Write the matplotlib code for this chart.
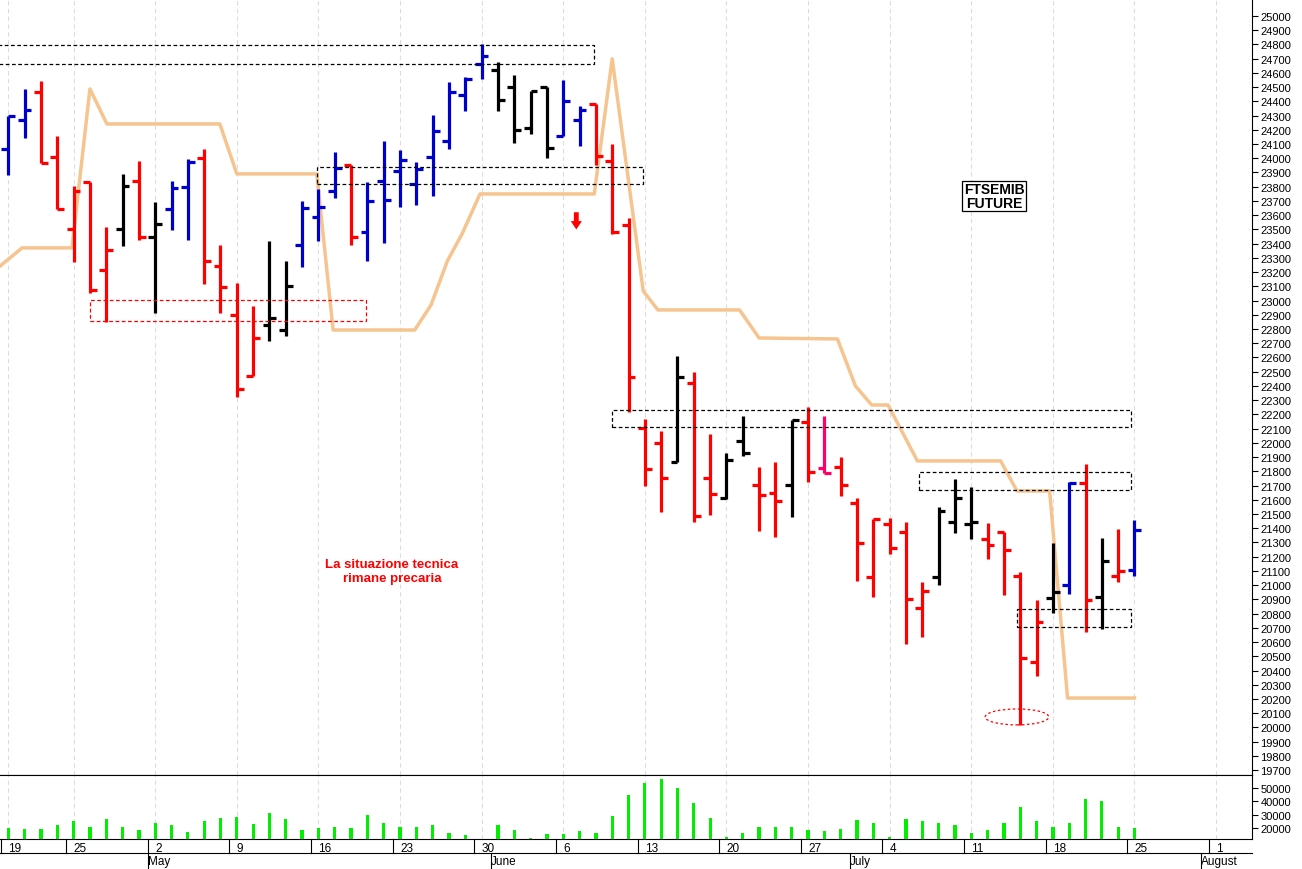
import matplotlib
matplotlib.use("Agg")
import matplotlib.pyplot as plt
from matplotlib.patches import Rectangle, Ellipse
import numpy as np
plt.rcParams['font.family'] = ['Liberation Sans', 'DejaVu Sans']

opens = [24065,24269,24464,24007,23503,23830,23215,23503,23843,23445,
         23644,23801,24002,23241,22899,22468,22829,22793,23390,23585,
         23768,23955,23484,23839,23913,23819,24007,24124,24445,24663,
         24621,24499,24210,24499,24154,24269,24382,23979,23531,22102,
         21997,21868,22419,21753,21613,22011,21704,21648,21704,22149,
         21824,21833,21578,21055,21430,21376,20838,21055,21442,21430,
         21325,21372,21067,20463,20910,21001,21720,20918,21067,21109]
highs = [24300,24487,24541,24159,23808,23836,23515,23890,23983,23691,
         23843,23995,24065,23393,23121,22964,23417,23276,23702,23784,
         24042,23955,23831,24124,24061,23976,24307,24538,24569,24803,
         24679,24585,24475,24499,24552,24370,24382,24100,23580,22168,
         22081,22608,22496,22063,21929,22191,21833,21863,22161,22250,
         22191,21899,21613,21465,21470,21442,21020,21547,21746,21688,
         21437,21372,21090,20896,21294,21728,21852,21329,21395,21458]
lows = [23883,24140,23967,23644,23274,23053,22852,23386,23426,22913,
        23496,23428,23117,22913,22325,22468,22718,22753,23234,23421,
        23719,23391,23281,23405,23656,23672,23733,24065,24335,24557,
        24335,24108,24171,24002,24154,24089,23953,23468,22217,21699,
        21512,21868,21442,21496,21606,21910,21383,21341,21477,21728,
        21788,21629,21032,20915,21219,20587,20634,21001,21367,21325,
        21184,20931,20018,20364,20802,20938,20673,20692,21020,21062]
closes = [24300,24339,23967,23644,23773,23077,23356,23808,23445,23538,
          23789,23972,23281,23093,22379,22735,22878,23105,23649,23656,
          23932,23445,23702,23707,23990,23925,24194,24464,24560,24721,
          24410,24201,24470,24072,24405,24339,24014,23480,22463,21817,
          21751,22461,21484,21641,21880,21927,21634,21594,22161,21793,
          21788,21706,21297,21465,21259,20903,20957,21524,21610,21447,
          21282,21250,20486,20739,20950,21716,20898,21172,21102,21388]
bar_colors = list("bbrrrrrkrkbbrrrrkkbbbrbbbbbbbbkkkkbbrrrrrkrrkkrrkrprrrrrrkkkrrrrkbrkrb")
volumes = [20000,19500,19000,22000,25000,21000,27000,21000,18500,23500,
           22000,17000,25500,27500,28000,23000,31000,26500,18500,20000,
           20500,20000,29500,23500,21000,20500,22000,16500,15000,11500,
           22000,18500,12500,15500,15500,17500,16500,29000,45000,54000,
           57000,50000,38500,27500,13500,16500,20500,21000,20500,18500,
           17500,19500,26000,23500,13500,27000,25000,23500,22000,16000,
           18500,23500,36000,25500,20500,23500,42000,40500,21000,20000]
line_x = [-0.5,0.84,3.9,5.0,6.04,12.96,14.0,18.9,19.9,24.9,25.9,26.9,27.8,28.9,35.9,
          37.0,38.9,39.8,44.8,46.0,50.8,51.9,52.9,53.9,55.7,60.8,61.8,63.8,64.9,69.0]
line_y = [23243,23370,23370,24487,24241,24241,23890,23890,22793,22793,22969,23278,23468,23749,23749,
          24698,23067,22934,22934,22737,22730,22400,22266,22266,21873,21873,21662,21662,20207,20207]
day_labels = ["19","25","2","9","16","23","30","6","13","20","27","4","11","18","25","1"]
day_idx = [0,4,9,14,19,24,29,34,39,44,49,54,59,64,69,74]
months = ["May","June","July","August"]
month_idx = [9,30,52,73.5]

cmap = {"r":"#ff0000","b":"#0000cc","k":"#000000","p":"#ff0066"}
fig = plt.figure(figsize=(13.02,8.70), dpi=100)
ax = fig.add_axes([0,1-776/870,1252/1302,776/870])
axv = fig.add_axes([0,1-840/870,1252/1302,64/870])
xlim = (-0.51,76.2)
for a in (ax,axv):
    a.set_xlim(*xlim)
    for i in day_idx:
        a.axvline(i,color="#dddddd",lw=0.8,ls=(0,(4,3)),zorder=0)
ax.set_ylim(19666,25119)
x = np.arange(len(opens))
t = 0.42
for i in x:
    c = cmap[bar_colors[i]]
    ax.vlines(i,lows[i],highs[i],color=c,lw=2.3,zorder=3)
    ax.hlines(opens[i],i-t,i,color=c,lw=2.3,zorder=3)
    ax.hlines(closes[i],i,i+t,color=c,lw=2.3,zorder=3)
ax.plot(line_x,line_y,color="#f5c48f",lw=2.5,zorder=2)
rects = [(-0.6,35.9,24663,24796,"k"),(18.9,38.9,23819,23939,"k"),(5.0,21.9,22857,23004,"r"),
         (37.0,68.8,22112,22231,"k"),(55.8,68.8,21669,21796,"k"),(61.8,68.8,20706,20833,"k")]
for x0,x1,y0,y1,c in rects:
    ax.add_patch(Rectangle((x0,y0),x1-x0,y1-y0,fill=False,ec=cmap[c],lw=0.9,ls=(0,(3,2)),zorder=4))
ax.add_patch(Ellipse((61.8,20074),3.9,112,fill=False,ec="#ff0000",lw=0.9,ls=(0,(2,2)),zorder=4))
ax.annotate("",xy=(34.8,23480),xytext=(34.8,23640),
            arrowprops=dict(arrowstyle="simple,head_width=0.8,head_length=0.6,tail_width=0.35",color="#ff0000",lw=0))
ax.text(60.4,23735,"FTSEMIB\nFUTURE",ha="center",va="center",fontsize=10,fontweight="bold",
        linespacing=0.95,bbox=dict(fc="white",ec="black",lw=0.9,pad=1.2))
ax.text(23.5,21100,"La situazione tecnica\nrimane precaria",ha="center",va="center",color="#ff0000",
        fontsize=9.5,fontweight="bold")
ax.yaxis.tick_right()
ax.set_yticks(range(19700,25001,100))
ax.tick_params(axis="y",labelsize=8,length=4,direction="out",pad=2)
ax.set_xticks([])
for s in ("top","left"):
    ax.spines[s].set_visible(False)

axv.bar(x,volumes,width=0.2,color="#00ee00",zorder=3)
axv.set_ylim(11700,59900)
axv.yaxis.tick_right()
axv.set_yticks([20000,30000,40000,50000])
axv.tick_params(axis="y",labelsize=8,length=4,pad=2)
axv.set_xticks(day_idx)
axv.set_xticklabels(day_labels,fontsize=8.5)
axv.tick_params(axis="x",length=0,pad=2)
for lab in axv.get_xticklabels():
    lab.set_horizontalalignment("left")
axv.spines["left"].set_visible(False)
for i in day_idx:
    axv.plot([i-0.45,i-0.45],[-0.22,0],transform=axv.get_xaxis_transform(),color="black",lw=0.8,clip_on=False)
for m,i in zip(months,month_idx):
    axv.text(i-0.45,-0.25,m,transform=axv.get_xaxis_transform(),fontsize=8.5,va="top",ha="left")
    axv.plot([i-0.45,i-0.45],[-0.22,-0.5],transform=axv.get_xaxis_transform(),color="black",lw=0.8,clip_on=False)
axv.plot([xlim[0],xlim[1]],[-0.22,-0.22],transform=axv.get_xaxis_transform(),color="black",lw=0.8,clip_on=False)
fig.savefig("out.png",dpi=100)
